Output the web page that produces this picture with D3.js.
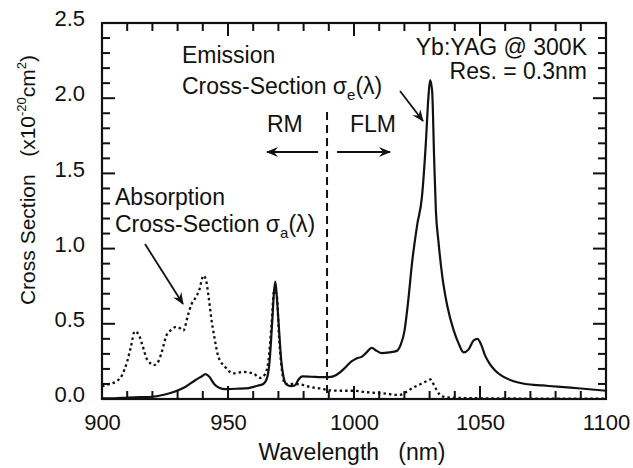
<!DOCTYPE html>
<html>
<head>
<meta charset="utf-8">
<script src="https://cdn.jsdelivr.net/npm/d3@7"></script>
<style>
  body { margin: 0; background: #fff; }
  svg text { font-family: "Liberation Sans", Arial, Helvetica, sans-serif; fill: #111; }
</style>
</head>
<body>
<svg id="chart"></svg>
<script>
// Emission cross-section (solid line), wavelength in nm, value in 1e-20 cm^2
const emissionWl = [900, 905, 910, 915, 920, 925, 929, 933, 937, 939.5, 941, 942.5, 944.5, 946.5, 949, 953, 957, 960, 962, 964,
  965.5, 966.5, 967.5, 968.3, 968.8, 969.5, 970.3, 971, 972, 973.3, 975, 976.5, 978, 979.5, 983, 987, 990, 993, 996, 999,
  1001, 1003, 1005, 1007, 1009, 1011, 1014, 1017, 1018.5, 1020, 1021.5, 1023, 1025, 1027, 1028.5, 1029.5, 1030.2, 1031,
  1031.8, 1032.5, 1033.5, 1035, 1037, 1039.5, 1041.5, 1043.5, 1045.5, 1047.5, 1049, 1050.5, 1052, 1054, 1056, 1059, 1063,
  1068, 1075, 1082, 1090, 1100];
const emissionVal = [0.005, 0.005, 0.01, 0.012, 0.015, 0.03, 0.05, 0.08, 0.125, 0.15, 0.165, 0.15, 0.1, 0.075, 0.065, 0.068, 0.07, 0.08, 0.09, 0.1,
  0.14, 0.25, 0.5, 0.72, 0.78, 0.65, 0.45, 0.28, 0.15, 0.095, 0.085, 0.09, 0.13, 0.15, 0.148, 0.145, 0.145, 0.16, 0.2, 0.25,
  0.27, 0.28, 0.31, 0.34, 0.32, 0.305, 0.31, 0.32, 0.36, 0.45, 0.65, 0.9, 1.15, 1.35, 1.7, 2.0, 2.12, 2.05,
  1.6, 1.25, 1.05, 0.82, 0.62, 0.46, 0.37, 0.31, 0.33, 0.39, 0.4, 0.36, 0.29, 0.23, 0.19, 0.15, 0.12,
  0.1, 0.09, 0.08, 0.07, 0.055];

// Absorption cross-section (dotted line)
const absorptionWl = [900, 903, 906, 908, 910, 911.5, 913, 914.5, 916, 917.7, 919, 920.5, 922, 923.5, 925.5, 927.5, 929.5, 931,
  932.3, 934, 935.5, 937, 938.5, 940.3, 941.3, 942.3, 943.5, 944.5, 946.2, 948.8, 952, 956, 960, 962.7, 964.5, 966, 967.3,
  968.3, 969.3, 970.3, 971.5, 972.6, 976, 978.6, 982.5, 986.5, 990.5, 995, 1000, 1005, 1009, 1013, 1017, 1019, 1021, 1024,
  1026.5, 1029, 1030.3, 1031.5, 1032.8, 1034, 1035.5, 1040, 1050, 1070, 1100];
const absorptionVal = [0.085, 0.1, 0.12, 0.16, 0.25, 0.35, 0.45, 0.43, 0.36, 0.27, 0.24, 0.225, 0.24, 0.3, 0.42, 0.46, 0.48, 0.47,
  0.455, 0.55, 0.63, 0.67, 0.72, 0.82, 0.79, 0.68, 0.52, 0.42, 0.28, 0.215, 0.17, 0.18, 0.17, 0.14, 0.16, 0.25, 0.5,
  0.72, 0.7, 0.4, 0.18, 0.1, 0.1, 0.097, 0.08, 0.07, 0.058, 0.055, 0.055, 0.045, 0.04, 0.035, 0.027, 0.03, 0.05, 0.08,
  0.1, 0.12, 0.13, 0.1, 0.06, 0.03, 0.015, 0.008, 0.005, 0.003, 0.003];

// Ticks
const xMajorTicks = [900, 950, 1000, 1050, 1100];
const xMinorTicks = d3.range(910, 1100, 10).filter(v => v % 50 !== 0);
const yMajorTicks = [0, 0.5, 1.0, 1.5, 2.0, 2.5];
const yMinorTicks = d3.range(1, 25).filter(v => v % 5 !== 0).map(v => v / 10);

// Boundary between reabsorption (RM) and four-level (FLM) regions
const boundaryWl = 989.3;

const W = 633, H = 468;
const plot = { left: 102, right: 606, top: 23, bottom: 399 };
const majorLen = 13, minorLen = 8;
const ink = "#111";

const svg = d3.select("#chart").attr("width", W).attr("height", H);

const x = d3.scaleLinear().domain([900, 1100]).range([plot.left, plot.right]);
const y = d3.scaleLinear().domain([0, 2.5]).range([plot.bottom, plot.top]);

// arrow marker
svg.append("defs").append("marker")
    .attr("id", "arrow")
    .attr("viewBox", "0 0 12 10")
    .attr("refX", 11).attr("refY", 5)
    .attr("markerWidth", 12).attr("markerHeight", 10)
    .attr("markerUnits", "userSpaceOnUse")
    .attr("orient", "auto")
    .append("path")
    .attr("d", "M0,0 L12,5 L0,10 L4,5 Z")
    .attr("fill", ink);

// Tick labels from d3 axes
function styleAxis(g) {
    g.select(".domain").remove();
    g.selectAll(".tick line").remove();
    g.selectAll("text").style("font-size", "22px").attr("fill", ink);
}
svg.append("g").attr("transform", `translate(0,${plot.bottom})`)
    .call(d3.axisBottom(x).tickValues(xMajorTicks).tickSize(0).tickPadding(15).tickFormat(d3.format("d")))
    .call(styleAxis);
svg.append("g").attr("transform", `translate(${plot.left},0)`)
    .call(d3.axisLeft(y).tickValues(yMajorTicks).tickSize(0).tickPadding(17).tickFormat(d3.format(".1f")))
    .call(styleAxis)
    .selectAll("text").attr("dy", "0.12em");

// frame
svg.append("rect")
    .attr("x", plot.left).attr("y", plot.top)
    .attr("width", plot.right - plot.left).attr("height", plot.bottom - plot.top)
    .attr("fill", "none").attr("stroke", ink).attr("stroke-width", 2.2);

// inward tick marks on all four sides
function xTicks(vals, len) {
    const g = svg.append("g");
    g.selectAll("line.b").data(vals).join("line").attr("class", "b")
        .attr("x1", d => x(d)).attr("x2", d => x(d))
        .attr("y1", plot.bottom).attr("y2", plot.bottom - len)
        .attr("stroke", ink).attr("stroke-width", 2);
    g.selectAll("line.t").data(vals).join("line").attr("class", "t")
        .attr("x1", d => x(d)).attr("x2", d => x(d))
        .attr("y1", plot.top).attr("y2", plot.top + len)
        .attr("stroke", ink).attr("stroke-width", 2);
}
function yTicks(vals, len) {
    const g = svg.append("g");
    g.selectAll("line.l").data(vals).join("line").attr("class", "l")
        .attr("y1", d => y(d)).attr("y2", d => y(d))
        .attr("x1", plot.left).attr("x2", plot.left + len)
        .attr("stroke", ink).attr("stroke-width", 2);
    g.selectAll("line.r").data(vals).join("line").attr("class", "r")
        .attr("y1", d => y(d)).attr("y2", d => y(d))
        .attr("x1", plot.right).attr("x2", plot.right - len)
        .attr("stroke", ink).attr("stroke-width", 2);
}
xTicks(xMajorTicks, majorLen);
xTicks(xMinorTicks, minorLen);
yTicks(yMajorTicks, majorLen);
yTicks(yMinorTicks, minorLen);

// curves
const line = d3.line().x(d => x(d[0])).y(d => y(d[1])).curve(d3.curveMonotoneX);

svg.append("path")
    .datum(d3.zip(absorptionWl, absorptionVal))
    .attr("d", line)
    .attr("fill", "none").attr("stroke", ink)
    .attr("stroke-width", 2.3).attr("stroke-dasharray", "2.5,3");

svg.append("path")
    .datum(d3.zip(emissionWl, emissionVal))
    .attr("d", line)
    .attr("fill", "none").attr("stroke", ink)
    .attr("stroke-width", 2.2).attr("stroke-linejoin", "round");

// RM / FLM boundary
svg.append("line")
    .attr("x1", x(boundaryWl)).attr("x2", x(boundaryWl))
    .attr("y1", 112).attr("y2", plot.bottom)
    .attr("stroke", ink).attr("stroke-width", 2).attr("stroke-dasharray", "8,5");

function arrow(x1, y1, x2, y2) {
    svg.append("line")
        .attr("x1", x1).attr("y1", y1).attr("x2", x2).attr("y2", y2)
        .attr("stroke", ink).attr("stroke-width", 1.8)
        .attr("marker-end", "url(#arrow)");
}
arrow(318, 152, 267, 152);
arrow(337, 152, 390, 152);
arrow(145, 244, 183, 304);
arrow(400, 91, 423, 121);

// annotation text
function label(tx, ty, anchor) {
    return svg.append("text").attr("x", tx).attr("y", ty)
        .attr("text-anchor", anchor || "start").style("font-size", "23px");
}
label(182, 63).text("Emission");
const em = label(182, 94);
em.append("tspan").text("Cross-Section ");
em.append("tspan").text("σ");
em.append("tspan").text("e").style("font-size", "15px").attr("dy", 6);
em.append("tspan").text("(λ)").attr("dy", -6);

label(587, 55, "end").text("Yb:YAG @ 300K");
label(587, 79, "end").text("Res. = 0.3nm");

label(267, 132).text("RM");
label(350, 132).text("FLM");

label(115, 205).text("Absorption");
const ab = label(115, 232);
ab.append("tspan").text("Cross-Section ");
ab.append("tspan").text("σ");
ab.append("tspan").text("a").style("font-size", "15px").attr("dy", 6);
ab.append("tspan").text("(λ)").attr("dy", -6);

// axis titles
svg.append("text")
    .attr("x", 352).attr("y", 460)
    .attr("text-anchor", "middle").style("font-size", "23px")
    .text("Wavelength\u00a0\u00a0 (nm)");

const ytitle = svg.append("text")
    .attr("transform", "translate(35,180) rotate(-90)")
    .attr("text-anchor", "middle").style("font-size", "21px");
ytitle.append("tspan").text("Cross Section\u00a0\u00a0 (x10");
ytitle.append("tspan").text("-20").style("font-size", "13px").attr("dy", -9);
ytitle.append("tspan").text("cm").attr("dy", 9);
ytitle.append("tspan").text("2").style("font-size", "13px").attr("dy", -9);
ytitle.append("tspan").text(")").attr("dy", 9);
</script>
</body>
</html>
